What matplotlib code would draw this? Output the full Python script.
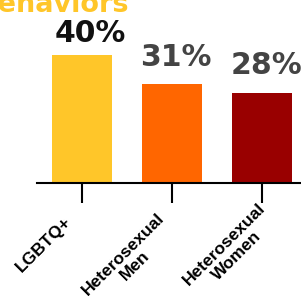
import matplotlib.pyplot as plt
import numpy as np

groups = ['LGBTQ+', 'Heterosexual\nMen', 'Heterosexual\nWomen']
values = [40, 31, 28]
bar_colors = ['#FFC629', '#FF6600', '#990000']
label_colors = ['#111111', '#444444', '#444444']

fig = plt.figure(figsize=(3.01, 2.96), dpi=100)
W, H = 301, 296
px = 72 / 100  # pixels -> points
ax = fig.add_axes([37 / W, (H - 183) / H, 264 / W, 183 / H])

x = np.arange(len(values))
ax.bar(x, values, width=60 / 90, color=bar_colors)
ax.set_xlim(-0.5, 2.433)
ax.set_ylim(0, 183 / 3.2)

for sp in ['top', 'right', 'left']:
    ax.spines[sp].set_visible(False)
ax.spines['bottom'].set_linewidth(1.5)
ax.set_yticks([])
ax.set_xticks(x)
ax.set_xticklabels([])
ax.tick_params(axis='x', length=20 * px, width=1.5)

# category labels, rotated, placed under each tick
lab_offs = [(-18, -31), (-15, -27), (-4, -17)]
for xi, g, o in zip(x, groups, lab_offs):
    ax.annotate(g, (xi, 0), xycoords=('data', 'axes fraction'),
                xytext=(o[0] * px, o[1] * px), textcoords='offset points',
                rotation=45, rotation_mode='anchor', ha='right', va='top',
                multialignment='center', fontsize=12.5, fontweight='bold',
                family='Liberation Sans', linespacing=1.12)

# value labels
val_offs = [(8.5, 13), (3.5, 18), (4, 19)]
for xi, v, c, o in zip(x, values, label_colors, val_offs):
    ax.annotate(f'{v}%', (xi, v), xytext=(o[0] * px, o[1] * px),
                textcoords='offset points', ha='center', va='baseline',
                fontsize=21.5, fontweight='bold', color=c)

fig.text(-22 / W, 1 - 12 / H, 'Behaviors', color='#FFC629', fontsize=19.5,
         fontweight='bold', ha='left', va='baseline')

fig.savefig('out.png', dpi=100)
